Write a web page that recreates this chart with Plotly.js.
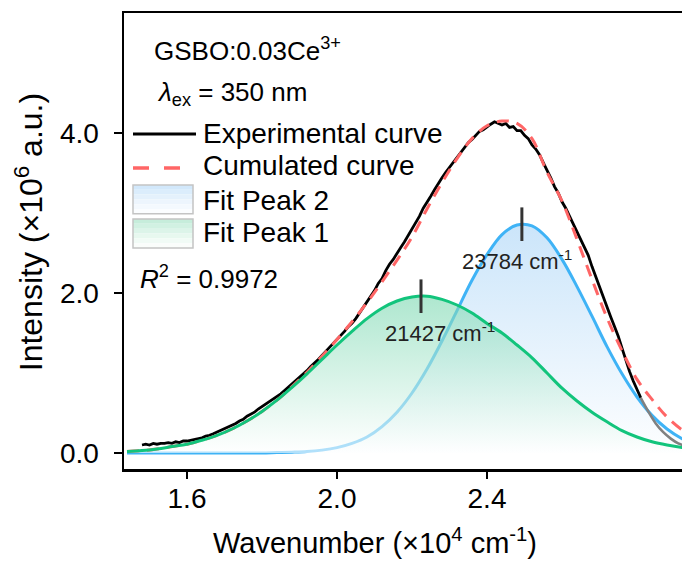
<!DOCTYPE html>
<html><head><meta charset="utf-8">
<script src="https://cdn.plot.ly/plotly-3.0.1.min.js"></script>
<style>html,body{margin:0;padding:0;overflow:hidden;background:#fff;width:682px;height:563px}#chart{width:720px;height:563px}</style>
</head><body><div id="chart"></div>
<script>
// ---- data ----
const expX = [1.48,1.49,1.50,1.51,1.52,1.53,1.54,1.55,1.56,1.57,
1.58,1.59,1.60,1.61,1.62,1.63,1.64,1.65,1.66,1.67,
1.68,1.69,1.70,1.71,1.72,1.73,1.74,1.75,1.76,1.77,
1.78,1.79,1.80,1.81,1.82,1.83,1.84,1.85,1.86,1.87,
1.88,1.89,1.90,1.91,1.92,1.93,1.94,1.95,1.96,1.97,
1.98,1.99,2.00,2.01,2.02,2.03,2.04,2.05,2.06,2.07,
2.08,2.09,2.10,2.11,2.12,2.13,2.14,2.15,2.16,2.17,
2.18,2.19,2.20,2.21,2.22,2.23,2.24,2.25,2.26,2.27,
2.28,2.29,2.30,2.31,2.32,2.33,2.34,2.35,2.36,2.37,
2.38,2.39,2.40,2.41,2.42,2.43,2.44,2.45,2.46,2.47,
2.48,2.49,2.50,2.51,2.52,2.53,2.54,2.55,2.56,2.57,
2.58,2.59,2.60,2.61,2.62,2.63,2.64,2.65,2.66,2.67,
2.68,2.69,2.70,2.71,2.72,2.73,2.74,2.75,2.76,2.77,
2.78,2.79,2.80,2.81];
const expY = [0.10,0.11,0.10,0.12,0.11,0.12,0.12,0.13,0.12,0.14,
0.13,0.15,0.15,0.16,0.17,0.18,0.19,0.21,0.22,0.24,
0.26,0.29,0.31,0.32,0.35,0.37,0.40,0.42,0.46,0.48,
0.51,0.55,0.58,0.61,0.65,0.67,0.71,0.74,0.78,0.82,
0.86,0.91,0.95,0.99,1.03,1.08,1.12,1.17,1.22,1.27,
1.31,1.37,1.41,1.47,1.52,1.58,1.62,1.68,1.75,1.82,
1.88,1.96,2.03,2.12,2.18,2.28,2.36,2.42,2.50,2.57,
2.64,2.72,2.80,2.88,2.96,3.06,3.13,3.21,3.29,3.37,
3.44,3.51,3.57,3.63,3.70,3.75,3.81,3.88,3.92,3.97,
4.02,4.04,4.08,4.11,4.14,4.12,4.10,4.12,4.07,4.08,
4.03,4.03,3.97,3.93,3.85,3.80,3.73,3.63,3.54,3.44,
3.33,3.25,3.14,3.06,2.96,2.86,2.77,2.68,2.58,2.47,
2.33,2.20,2.07,1.94,1.82,1.70,1.58,1.46,1.31,1.16,
1.02,0.90,0.80,0.69];
const tailX = [2.81,2.83,2.85,2.87,2.89,2.91,2.93];
const tailY = [0.69,0.52,0.37,0.26,0.18,0.12,0.09];

const fitX = [1.44,1.48,1.52,1.56,1.60,1.64,1.68,1.72,1.76,1.80,1.84,1.88,1.92,1.96,2.00,2.04,2.08,2.12,2.16,2.20,2.24,2.28,2.32,2.36,2.40,2.44,2.48,2.52,2.56,2.60,2.64,2.68,2.72,2.76,2.80,2.84,2.88,2.92,2.96];
const peak1Y = [0.02,0.03,0.05,0.08,0.11,0.16,0.22,0.30,0.40,0.52,0.66,0.82,0.99,1.17,1.35,1.52,1.68,1.81,1.90,1.95,1.96,1.92,1.85,1.75,1.62,1.50,1.35,1.19,1.00,0.81,0.65,0.51,0.39,0.28,0.20,0.14,0.10,0.07,0.05];
const peak2Y = [0,0,0,0,0,0,0,0,0,0,0.005,0.01,0.018,0.036,0.067,0.12,0.20,0.33,0.51,0.75,1.05,1.40,1.78,2.16,2.48,2.73,2.85,2.84,2.69,2.42,2.08,1.71,1.33,0.99,0.70,0.47,0.30,0.18,0.10];
const cumY = [0.02,0.03,0.05,0.08,0.11,0.16,0.22,0.30,0.40,0.52,0.66,0.83,1.01,1.21,1.42,1.64,1.88,2.14,2.41,2.70,3.05,3.38,3.68,3.93,4.09,4.15,4.12,3.93,3.51,3.15,2.67,2.17,1.69,1.28,0.92,0.67,0.45,0.29,0.18];

const peakX = [2.224, 2.493];
const peakY = [1.96, 2.86];
const peakLabels = ['21427 cm<sup>-1</sup>', '23784 cm<sup>-1</sup>'];
const peakLabelX = [2.123, 2.328];
const peakLabelY = [1.51, 2.41];

const xTickVals = [1.6, 2.0, 2.4];
const xTickText = ['1.6', '2.0', '2.4'];
const yTickVals = [0, 2, 4];
const yTickText = ['0.0', '2.0', '4.0'];

const legendLabels = ['Experimental curve', 'Cumulated curve', 'Fit Peak 2', 'Fit Peak 1'];
const legendRowY = [4.0, 3.59, 3.16, 2.76];

// ---- styles ----
const FONT = 'Liberation Sans, Arial, sans-serif';
const cBlack = '#000000', cRed = '#ff6666', cBlue = '#3fb3f6', cGreen = '#12c47c', cGray = '#808080';

const traces = [
  {x: fitX, y: peak2Y, mode: 'lines', line: {color: cBlue, width: 3, shape: 'spline'},
   fill: 'tozeroy', fillgradient: {type: 'vertical', start: 0, stop: 2.86,
     colorscale: [[0, 'rgb(253,254,255)'], [1, 'rgb(203,229,250)']]}, hoverinfo: 'skip'},
  {x: fitX, y: peak1Y, mode: 'lines', line: {color: 'rgba(0,0,0,0)', width: 0, shape: 'spline'},
   fill: 'tozeroy', fillgradient: {type: 'vertical', start: 0, stop: 1.96,
     colorscale: [[0, 'rgba(255,255,255,0.6)'], [1, 'rgba(120,215,175,0.6)']]}, hoverinfo: 'skip'},
  {x: expX, y: expY, mode: 'lines', line: {color: cBlack, width: 2.8}, hoverinfo: 'skip'},
  {x: tailX, y: tailY, mode: 'lines', line: {color: cGray, width: 2.6, shape: 'spline'}, hoverinfo: 'skip'},
  {x: fitX, y: cumY, mode: 'lines', line: {color: cRed, width: 3, dash: '12px,8px', shape: 'spline'}, hoverinfo: 'skip'},
  {x: fitX, y: peak1Y, mode: 'lines', line: {color: cGreen, width: 3, shape: 'spline'}, hoverinfo: 'skip'},
  {x: peakX, y: peakY, mode: 'markers', marker: {symbol: 'line-ns-open', size: 24, color: '#333', line: {width: 3, color: '#333'}}, hoverinfo: 'skip'}
];

const shapes = [];
// legend symbols
shapes.push({type: 'line', xref: 'x', yref: 'y', x0: 1.456, x1: 1.624, y0: 3.9875, y1: 3.9875, line: {color: cBlack, width: 3}});
shapes.push({type: 'line', xref: 'x', yref: 'y', x0: 1.456, x1: 1.584, y0: 3.5625, y1: 3.5625, line: {color: cRed, width: 3.5, dash: '16px,15px'}});
const blueBands = ['#d2e8fb', '#dbedfc', '#e4f1fc', '#edf5fd', '#f4f9fe', '#fbfdff'];
const greenBands = ['#c6eddb', '#d1f1e2', '#dcf4e9', '#e7f8ef', '#f1fbf6', '#fafdfb'];
function swatch(top, bottom, bands) {
  const h = (top - bottom) / bands.length;
  bands.forEach((c, i) => shapes.push({type: 'rect', xref: 'x', yref: 'y', x0: 1.456, x1: 1.616,
    y0: top - i * h, y1: top - (i + 1) * h, fillcolor: c, line: {width: 0}}));
  shapes.push({type: 'rect', xref: 'x', yref: 'y', x0: 1.456, x1: 1.616, y0: top, y1: bottom, line: {color: '#c4c4c4', width: 1.5}});
}
swatch(3.35, 2.99, blueBands);
swatch(2.925, 2.5625, greenBands);

const ann = [];
function txt(x, y, t, size, color) {
  ann.push({x: x, y: y, xref: 'x', yref: 'y', text: t, showarrow: false, xanchor: 'left', yanchor: 'middle',
    font: {family: FONT, size: size, color: color || '#000'}});
}
txt(1.5067, 5.04, 'GSBO:0.03Ce<sup>3+</sup>', 26);
txt(1.5147, 4.50, '<i>λ</i><sub>ex</sub> = 350 nm', 26);
legendLabels.forEach((l, i) => txt(1.638, legendRowY[i], l, 28));
txt(1.4693, 2.19, '<i>R</i><sup>2</sup> = 0.9972', 26);
peakLabels.forEach((l, i) => txt(peakLabelX[i], peakLabelY[i], l, 22, '#222'));
// axis titles
ann.push({xref: 'paper', yref: 'paper', x: 0.436, y: -0.158, xanchor: 'center', yanchor: 'middle', showarrow: false,
  text: 'Wavenumber (×10<sup>4</sup> cm<sup>-1</sup>)', font: {family: FONT, size: 29, color: '#000'}});
ann.push({xref: 'paper', yref: 'paper', x: -0.166, y: 0.52, xanchor: 'center', yanchor: 'middle', showarrow: false, textangle: -90,
  text: 'Intensity (×10<sup>6</sup> a.u.)', font: {family: FONT, size: 32, color: '#000'}});

const axisCommon = {showgrid: false, zeroline: false, showline: true, linewidth: 2.5, linecolor: '#000', mirror: true,
  ticks: 'outside', tickwidth: 2.5, tickcolor: '#000', tickfont: {family: FONT, size: 28, color: '#000'}};

const layout = {
  width: 720, height: 563,
  margin: {l: 124, r: 20, t: 13, b: 94},
  paper_bgcolor: '#fff', plot_bgcolor: '#fff',
  showlegend: false,
  font: {family: FONT, color: '#000'},
  xaxis: Object.assign({}, axisCommon, {range: [1.432, 2.968], tickmode: 'array', tickvals: xTickVals, ticktext: xTickText, ticklen: 7, ticklabelstandoff: -4}),
  yaxis: Object.assign({}, axisCommon, {range: [-0.2, 5.5], tickmode: 'array', tickvals: yTickVals, ticktext: yTickText, ticklen: 8, ticklabelstandoff: 9}),
  shapes: shapes,
  annotations: ann
};

Plotly.newPlot('chart', traces, layout, {displayModeBar: false, staticPlot: true});
</script></body></html>
